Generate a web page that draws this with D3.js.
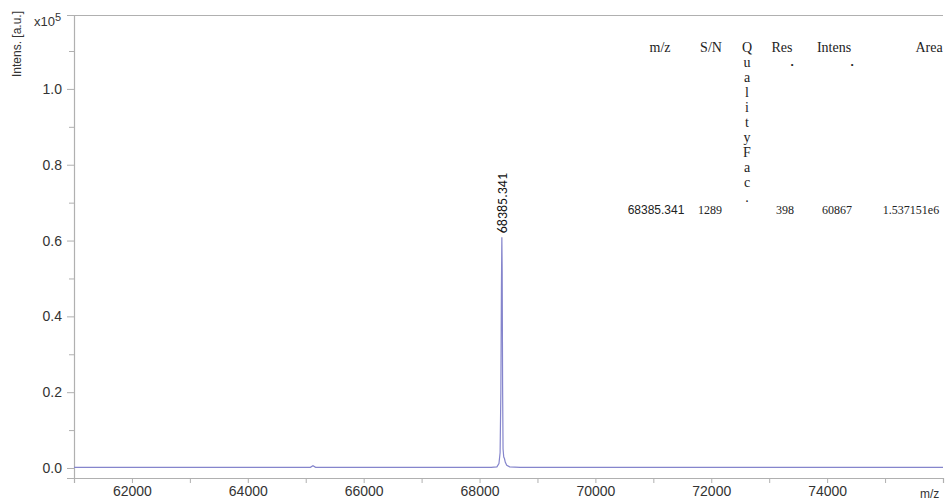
<!DOCTYPE html>
<html>
<head>
<meta charset="utf-8">
<script src="https://cdn.jsdelivr.net/npm/d3@7"></script>
<style>
  html, body { margin: 0; padding: 0; background: #fff; }
  svg { display: block; }
</style>
</head>
<body>
<svg id="chart" width="947" height="500"></svg>
<script>
// Spectrum trace: m/z positions and intensities (a.u.)
const mzValues = [61000, 63000, 65000, 65080, 65125, 65170, 67000, 68200, 68300, 68335,
                  68355, 68368, 68378, 68385.341, 68391, 68398, 68406, 68418, 68430,
                  68445, 68470, 68520, 68700, 70000, 76000];
const intensities = [150, 150, 150, 180, 600, 180, 150, 150, 300, 1200,
                     4000, 20000, 48000, 60867, 52000, 22000, 5000, 2900, 2500,
                     1500, 700, 300, 180, 150, 150];

// Annotated peak
const peakMz = 68385.341;
const peakIntensity = 60867;
const peakLabel = "68385.341";

// Axis ticks
const xTicks = [62000, 64000, 66000, 68000, 70000, 72000, 74000];
const xMinorTicks = [61000, 63000, 65000, 67000, 69000, 71000, 73000, 75000, 76000];
const yTicks = [0.0, 0.2, 0.4, 0.6, 0.8, 1.0];
const yMinorTicks = [0.1, 0.3, 0.5, 0.7, 0.9, 1.1];

// Peak table
const tableHeaders = ["m/z", "S/N", "Res", "Intens", "Area"];
const tableValues = ["68385.341", "1289", "398", "60867", "1.537151e6"];
const qualityFactorLetters = ["Q", "u", "a", "l", "i", "t", "y", "F", "a", "c", "."];

const svg = d3.select("#chart");
const plotLeft = 74, plotRight = 943, plotTop = 15, plotBottom = 478;

const x = d3.scaleLinear().domain([61000, 76000]).range([plotLeft, plotRight]);
const y = d3.scaleLinear().domain([-0.0264, 1.195]).range([plotBottom, plotTop]);
const axisColor = "#b0b0b0";
const labelFont = "Liberation Sans, Arial, sans-serif";

// top frame line
svg.append("line")
  .attr("x1", plotLeft).attr("x2", plotRight).attr("y1", plotTop + 0.5).attr("y2", plotTop + 0.5)
  .attr("stroke", axisColor).attr("stroke-width", 1.2);

// Y axis
const yAxis = svg.append("g").attr("transform", `translate(${plotLeft},0)`)
  .call(d3.axisLeft(y).tickValues(yTicks).tickFormat(d3.format(".1f")).tickSize(7).tickPadding(5));
svg.append("g").attr("transform", `translate(${plotLeft},0)`)
  .call(d3.axisLeft(y).tickValues(yMinorTicks).tickFormat("").tickSize(5))
  .call(g => g.select(".domain").remove());

// X axis
const xAxis = svg.append("g").attr("transform", `translate(0,${plotBottom})`)
  .call(d3.axisBottom(x).tickValues(xTicks).tickFormat(d3.format("d")).tickSize(5).tickPadding(3));
svg.append("g").attr("transform", `translate(0,${plotBottom})`)
  .call(d3.axisBottom(x).tickValues(xMinorTicks).tickFormat("").tickSize(5))
  .call(g => g.select(".domain").remove());

svg.selectAll(".domain").attr("stroke", axisColor).attr("stroke-width", 1.2);
svg.selectAll(".tick line").attr("stroke", axisColor);
yAxis.selectAll("text").attr("font-family", labelFont).attr("font-size", 14).attr("fill", "#333");
xAxis.selectAll("text").attr("font-family", labelFont).attr("font-size", 14).attr("fill", "#333");

// axis titles
svg.append("text")
  .attr("transform", "translate(21,44) rotate(-90)")
  .attr("text-anchor", "middle")
  .attr("font-family", labelFont).attr("font-size", 12).attr("fill", "#333")
  .text("Intens. [a.u.]");
const mult = svg.append("text").attr("x", 34).attr("y", 26)
  .attr("font-family", labelFont).attr("font-size", 13).attr("fill", "#333");
mult.append("tspan").text("x10");
mult.append("tspan").attr("dy", -5).attr("font-size", 11).text("5");

svg.append("text").attr("x", 920).attr("y", 498)
  .attr("font-family", labelFont).attr("font-size", 12).attr("fill", "#333")
  .text("m/z");

// spectrum
const spectrum = mzValues.map((m, i) => [m, intensities[i] / 1e5]);
svg.append("path")
  .datum(spectrum)
  .attr("fill", "none")
  .attr("stroke", "#8585cc")
  .attr("stroke-width", 1.2)
  .attr("d", d3.line().x(d => x(d[0])).y(d => y(d[1])));

// peak label
svg.append("text")
  .attr("transform", `translate(${x(peakMz) + 5},${y(peakIntensity / 1e5) - 4}) rotate(-90)`)
  .attr("font-family", "Carlito, Liberation Sans, sans-serif")
  .attr("font-size", 14).attr("fill", "#111")
  .text(peakLabel);

// peak table
const serif = "Liberation Serif, Times New Roman, serif";
const headerX = [660, 711, 782, 834, 929];
const valueX = [656, 710, 785, 837, 911];
const table = svg.append("g");
table.selectAll("text.head").data(tableHeaders).join("text")
  .attr("class", "head")
  .attr("x", (d, i) => headerX[i]).attr("y", 52)
  .attr("text-anchor", "middle")
  .attr("font-family", serif).attr("font-size", 14).attr("fill", "#222")
  .text(d => d);
table.selectAll("text.q").data(qualityFactorLetters).join("text")
  .attr("class", "q")
  .attr("x", 747).attr("y", (d, i) => 52 + i * 15)
  .attr("text-anchor", "middle")
  .attr("font-family", serif).attr("font-size", 14).attr("fill", "#222")
  .text(d => d);
table.selectAll("text.dot").data([792, 852]).join("text")
  .attr("class", "dot")
  .attr("x", d => d).attr("y", 66)
  .attr("text-anchor", "middle")
  .attr("font-family", serif).attr("font-size", 13).attr("font-weight", "bold").attr("fill", "#222")
  .text(".");
table.selectAll("text.val").data(tableValues).join("text")
  .attr("class", "val")
  .attr("x", (d, i) => valueX[i]).attr("y", 214)
  .attr("text-anchor", "middle")
  .attr("font-family", (d, i) => i === 0 ? "Liberation Sans, Arial, sans-serif" : serif)
  .attr("font-size", 12)
  .attr("fill", "#222")
  .text(d => d);
</script>
</body>
</html>
